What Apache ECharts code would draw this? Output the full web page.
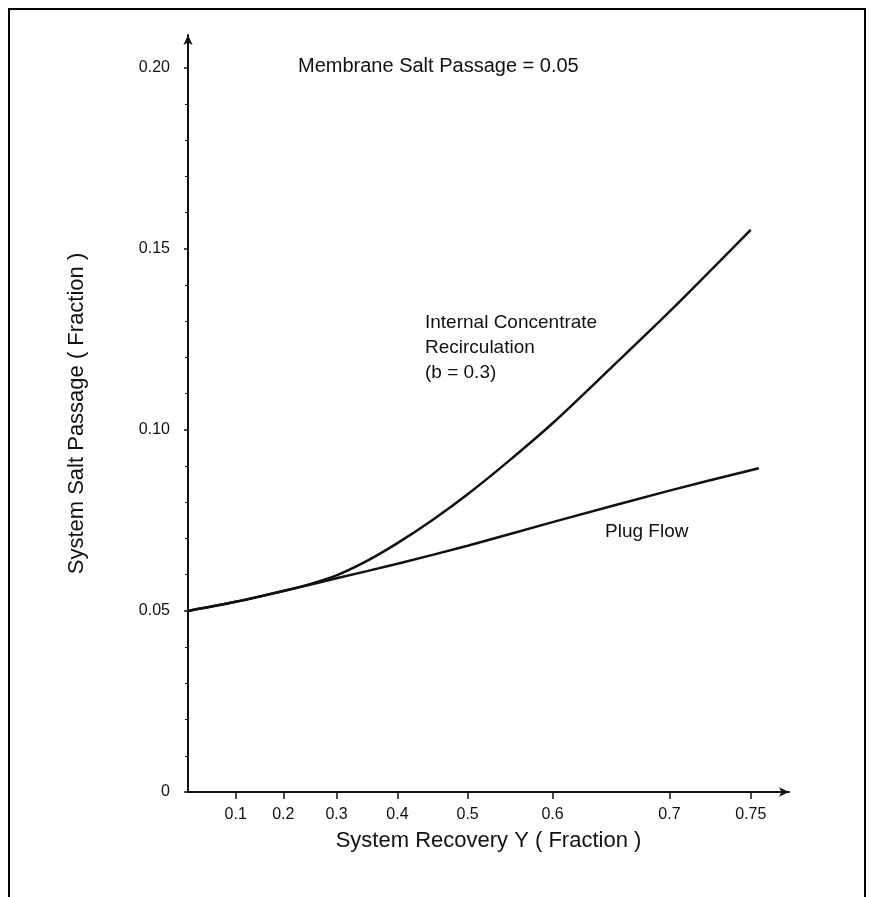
<!DOCTYPE html>
<html>
<head>
<meta charset="utf-8">
<title>System Salt Passage vs System Recovery</title>
<script src="https://cdn.jsdelivr.net/npm/echarts@6/dist/echarts.min.js"></script>
<style>
  html, body { margin: 0; padding: 0; background: #fff; }
  #chart { width: 874px; height: 897px; }
</style>
</head>
<body>
<div id="chart"></div>
<script>
// Recovery values printed under the horizontal axis
const recoveryTicks = [0, 0.1, 0.2, 0.3, 0.4, 0.5, 0.6, 0.7, 0.75];
// Where each printed recovery sits along the horizontal axis (0 = origin, 1 = arrow tip);
// the recovery scale is drawn unevenly, stretching toward high recovery
const recoveryStops = [0, 0.0793, 0.1585, 0.2471, 0.3485, 0.4653, 0.6066, 0.8011, 0.9363];

// Salt passage values printed beside the vertical axis
const passageTicks = [0, 0.05, 0.10, 0.15, 0.20];

// Plug flow curve
const plugRecovery = [0, 0.1, 0.2, 0.3, 0.4, 0.5, 0.6, 0.7, 0.755];
const plugPassage  = [0.050, 0.0525, 0.0555, 0.059, 0.063, 0.068, 0.0745, 0.0832, 0.0894];

// Internal concentrate recirculation curve (b = 0.3)
const icrRecovery = [0, 0.1, 0.2, 0.25, 0.3, 0.35, 0.4, 0.45, 0.5, 0.55, 0.6, 0.65, 0.7, 0.75];
const icrPassage  = [0.050, 0.0525, 0.0555, 0.0574, 0.0598, 0.0638, 0.0687, 0.0751, 0.0822, 0.0917, 0.1018, 0.1171, 0.1326, 0.1552];

// Piecewise-linear recovery scale through the printed ticks
function recoveryScale(y) {
  const n = recoveryTicks.length;
  let i = 1;
  while (i < n - 1 && y > recoveryTicks[i]) i++;
  const t0 = recoveryTicks[i - 1], t1 = recoveryTicks[i];
  const s0 = recoveryStops[i - 1], s1 = recoveryStops[i];
  return s0 + (y - t0) * (s1 - s0) / (t1 - t0);
}
function recoveryLabel(stop) {
  const i = recoveryStops.findIndex(s => Math.abs(s - stop) < 1e-6);
  return i > 0 ? String(recoveryTicks[i]) : '';
}

const toPoints = (xs, ys) => xs.map((x, i) => [recoveryScale(x), ys[i]]);

const FONT = '"Liberation Sans", Arial, Helvetica, sans-serif';
const INK = '#111';

const chart = echarts.init(document.getElementById('chart'), null, { renderer: 'canvas' });

chart.setOption({
  animation: false,
  backgroundColor: '#fff',
  grid: { left: 188, right: 85, top: 35, bottom: 105, containLabel: false },
  xAxis: {
    type: 'value',
    min: 0,
    max: 1,
    name: 'System Recovery Y ( Fraction )',
    nameLocation: 'middle',
    nameGap: 38,
    nameTextStyle: { color: INK, fontFamily: FONT, fontSize: 22 },
    axisLine: { show: true, symbol: ['none', 'arrow'], symbolSize: [7, 10], lineStyle: { color: INK, width: 2 } },
    axisTick: { show: true, inside: false, length: 7, customValues: recoveryStops.slice(1), lineStyle: { color: INK, width: 1.5 } },
    axisLabel: { show: true, customValues: recoveryStops.slice(1), formatter: v => recoveryLabel(v), color: INK, fontFamily: FONT, fontSize: 16, margin: 15 },
    splitLine: { show: false }
  },
  yAxis: {
    type: 'value',
    min: 0,
    max: 0.209,
    name: 'System Salt Passage ( Fraction )',
    nameLocation: 'middle',
    nameGap: 100,
    nameRotate: 90,
    nameTextStyle: { color: INK, fontFamily: FONT, fontSize: 22 },
    axisLine: { show: true, symbol: ['none', 'arrow'], symbolSize: [7, 10], lineStyle: { color: INK, width: 2 } },
    axisTick: { show: true, length: 4, customValues: passageTicks, lineStyle: { color: INK, width: 1.5 } },
    minorTick: { show: true, splitNumber: 5, length: 3, lineStyle: { color: INK, width: 1 } },
    axisLabel: { show: true, customValues: passageTicks, formatter: v => (v === 0 ? '0' : v.toFixed(2)), color: INK, fontFamily: FONT, fontSize: 16, margin: 18 },
    splitLine: { show: false }
  },
  series: [
    {
      name: 'Plug Flow',
      type: 'line',
      data: toPoints(plugRecovery, plugPassage),
      smooth: 0.3,
      showSymbol: false,
      lineStyle: { color: INK, width: 2.5 }
    },
    {
      name: 'Internal Concentrate Recirculation',
      type: 'line',
      data: toPoints(icrRecovery, icrPassage),
      smooth: 0.3,
      showSymbol: false,
      lineStyle: { color: INK, width: 2.5 }
    }
  ],
  graphic: [
    { type: 'rect', shape: { x: 9, y: 9, width: 856, height: 910 }, style: { fill: 'none', stroke: '#000', lineWidth: 2 }, silent: true },
    { type: 'text', left: 298, top: 56, style: { text: 'Membrane Salt Passage = 0.05', fill: INK, font: '20px ' + FONT } },
    { type: 'text', left: 425, top: 310, style: { text: 'Internal Concentrate\nRecirculation\n(b = 0.3)', fill: INK, font: '19px ' + FONT, lineHeight: 25 } },
    { type: 'text', left: 605, top: 522, style: { text: 'Plug Flow', fill: INK, font: '19px ' + FONT } }
  ]
});
</script>
</body>
</html>
